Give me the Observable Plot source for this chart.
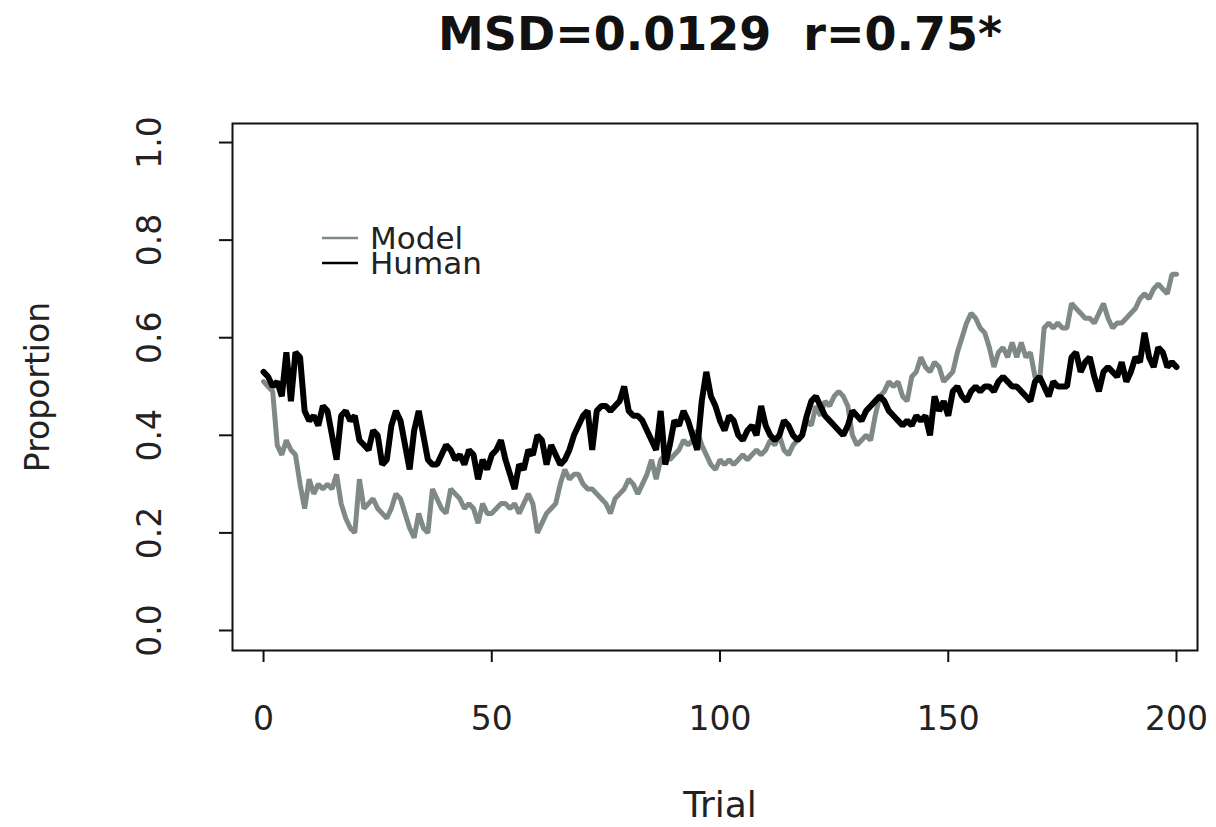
<!DOCTYPE html>
<html><head><meta charset="utf-8">
<script src="https://cdn.jsdelivr.net/npm/d3@7"></script>
<script src="https://cdn.jsdelivr.net/npm/@observablehq/plot@0.6"></script>
<style>
body{margin:0;background:#fff;font-family:"DejaVu Sans",sans-serif;}
#chart{position:relative;width:1216px;height:827px;}
#chart text{white-space:pre;}
</style>
</head><body><div id="chart"></div>
<script>
const titleText = "MSD=0.0129  r=0.75*";
const xLabel = "Trial";
const yLabel = "Proportion";
const xTicks = [0, 50, 100, 150, 200];
const yTicks = [0.0, 0.2, 0.4, 0.6, 0.8, 1.0];
const seriesNames = ["Model", "Human"];
const seriesColors = ["#7f8986", "#000000"];

const trials = d3.range(0, 201);
const human = [
0.53,0.52,0.50,0.51,0.48,0.57,0.47,0.57,0.56,0.45,
0.43,0.44,0.42,0.46,0.45,0.40,0.35,0.44,0.45,0.43,
0.44,0.39,0.38,0.37,0.41,0.40,0.34,0.35,0.42,0.45,
0.43,0.38,0.33,0.41,0.45,0.40,0.35,0.34,0.34,0.36,
0.38,0.37,0.35,0.36,0.34,0.37,0.36,0.31,0.35,0.33,
0.36,0.37,0.39,0.35,0.32,0.29,0.34,0.33,0.37,0.36,
0.40,0.39,0.34,0.38,0.36,0.34,0.35,0.37,0.40,0.42,
0.44,0.45,0.37,0.45,0.46,0.46,0.45,0.46,0.47,0.50,
0.45,0.44,0.44,0.43,0.41,0.39,0.37,0.45,0.34,0.38,
0.43,0.42,0.45,0.43,0.40,0.37,0.47,0.53,0.48,0.46,
0.43,0.41,0.44,0.43,0.40,0.39,0.41,0.42,0.40,0.46,
0.42,0.40,0.39,0.40,0.43,0.42,0.40,0.39,0.40,0.44,
0.47,0.48,0.46,0.44,0.43,0.42,0.41,0.40,0.42,0.45,
0.44,0.43,0.45,0.46,0.47,0.48,0.47,0.45,0.44,0.43,
0.42,0.43,0.42,0.44,0.43,0.44,0.40,0.48,0.45,0.47,
0.44,0.49,0.50,0.48,0.47,0.49,0.50,0.49,0.50,0.50,
0.49,0.51,0.52,0.51,0.50,0.50,0.49,0.48,0.47,0.51,
0.52,0.50,0.48,0.51,0.50,0.50,0.50,0.56,0.57,0.53,
0.55,0.56,0.52,0.49,0.53,0.54,0.53,0.52,0.55,0.51,
0.53,0.56,0.55,0.61,0.56,0.54,0.58,0.57,0.54,0.55,
0.54];
const model = [
0.51,0.50,0.49,0.38,0.36,0.39,0.37,0.36,0.30,0.25,
0.31,0.28,0.30,0.29,0.30,0.29,0.32,0.26,0.23,0.21,
0.20,0.31,0.25,0.26,0.27,0.25,0.24,0.23,0.25,0.28,
0.27,0.24,0.21,0.19,0.24,0.21,0.20,0.29,0.27,0.25,
0.24,0.29,0.28,0.27,0.25,0.26,0.25,0.22,0.26,0.24,
0.24,0.25,0.26,0.26,0.25,0.26,0.24,0.26,0.28,0.26,
0.20,0.22,0.24,0.25,0.26,0.30,0.33,0.31,0.32,0.32,
0.30,0.29,0.29,0.28,0.27,0.26,0.24,0.27,0.28,0.29,
0.31,0.30,0.28,0.30,0.32,0.35,0.31,0.35,0.36,0.35,
0.36,0.37,0.39,0.38,0.39,0.41,0.38,0.36,0.34,0.33,
0.35,0.34,0.35,0.34,0.35,0.36,0.35,0.36,0.37,0.36,
0.37,0.39,0.38,0.40,0.37,0.36,0.38,0.39,0.40,0.43,
0.42,0.46,0.44,0.47,0.46,0.48,0.49,0.48,0.46,0.40,
0.38,0.39,0.40,0.39,0.44,0.48,0.49,0.51,0.50,0.51,
0.48,0.47,0.52,0.53,0.56,0.54,0.53,0.55,0.54,0.51,
0.52,0.53,0.57,0.60,0.63,0.65,0.64,0.62,0.61,0.58,
0.54,0.57,0.58,0.56,0.59,0.56,0.59,0.56,0.57,0.52,
0.51,0.62,0.63,0.62,0.63,0.62,0.62,0.67,0.66,0.65,
0.64,0.64,0.63,0.65,0.67,0.64,0.62,0.63,0.63,0.64,
0.65,0.66,0.68,0.69,0.68,0.70,0.71,0.70,0.69,0.73,
0.73];

const modelData = trials.map((t, i) => ({trial: t, value: model[i]}));
const humanData = trials.map((t, i) => ({trial: t, value: human[i]}));

const font = '"DejaVu Sans", sans-serif';
const chart = Plot.plot({
  width: 1216,
  height: 827,
  marginLeft: 232,
  marginRight: 19,
  marginTop: 123,
  marginBottom: 177,
  style: {fontFamily: font, background: "#fff", overflow: "visible"},
  x: {domain: [-6.8, 204.6]},
  y: {domain: [-0.041, 1.039]},
  marks: [
    Plot.line(modelData, {x: "trial", y: "value", stroke: seriesColors[0], strokeWidth: 5, strokeLinejoin: "miter"}),
    Plot.line(humanData, {x: "trial", y: "value", stroke: seriesColors[1], strokeWidth: 6, strokeLinejoin: "miter"}),
    Plot.frame({stroke: "#111", strokeWidth: 2}),
    Plot.axisX({ticks: xTicks, tickSize: 12, tickPadding: 44, fontSize: 33, label: null, stroke: "#111", strokeWidth: 2, fill: "#222", tickFormat: d => String(d)}),
    Plot.axisY({ticks: yTicks, tickSize: 13, label: null, text: null, stroke: "#111", strokeWidth: 2}),
    Plot.text(yTicks, {y: d => d, frameAnchor: "left", dx: -82, rotate: -90, text: d => d.toFixed(1), fontSize: 33, textAnchor: "middle", lineAnchor: "middle", fill: "#222"}),
    Plot.text([yLabel], {frameAnchor: "left", dx: -194, rotate: -90, text: d => d, fontSize: 33, textAnchor: "middle", lineAnchor: "middle", fill: "#222"}),
    Plot.text([xLabel], {x: () => 100, frameAnchor: "bottom", dy: 155, text: d => d, fontSize: 36, textAnchor: "middle", lineAnchor: "middle", fill: "#222"}),
    Plot.text([titleText], {x: () => 100, frameAnchor: "top", dy: -88, text: d => d, fontSize: 46, fontWeight: "bold", textAnchor: "middle", lineAnchor: "middle", fill: "#111"})
  ]
});
document.getElementById("chart").appendChild(chart);

// legend
const svg = d3.select(chart);
const lg = svg.append("g").attr("font-family", font).attr("font-size", 31).attr("fill", "#222").attr("text-anchor", "start");
seriesNames.forEach((name, i) => {
  const yy = 238 + i * 25;
  lg.append("line").attr("x1", 322).attr("x2", 358).attr("y1", yy).attr("y2", yy)
    .attr("stroke", seriesColors[i]).attr("stroke-width", 2.5);
  lg.append("text").attr("x", 370).attr("y", yy + 11).text(name);
});
</script>
</body></html>
